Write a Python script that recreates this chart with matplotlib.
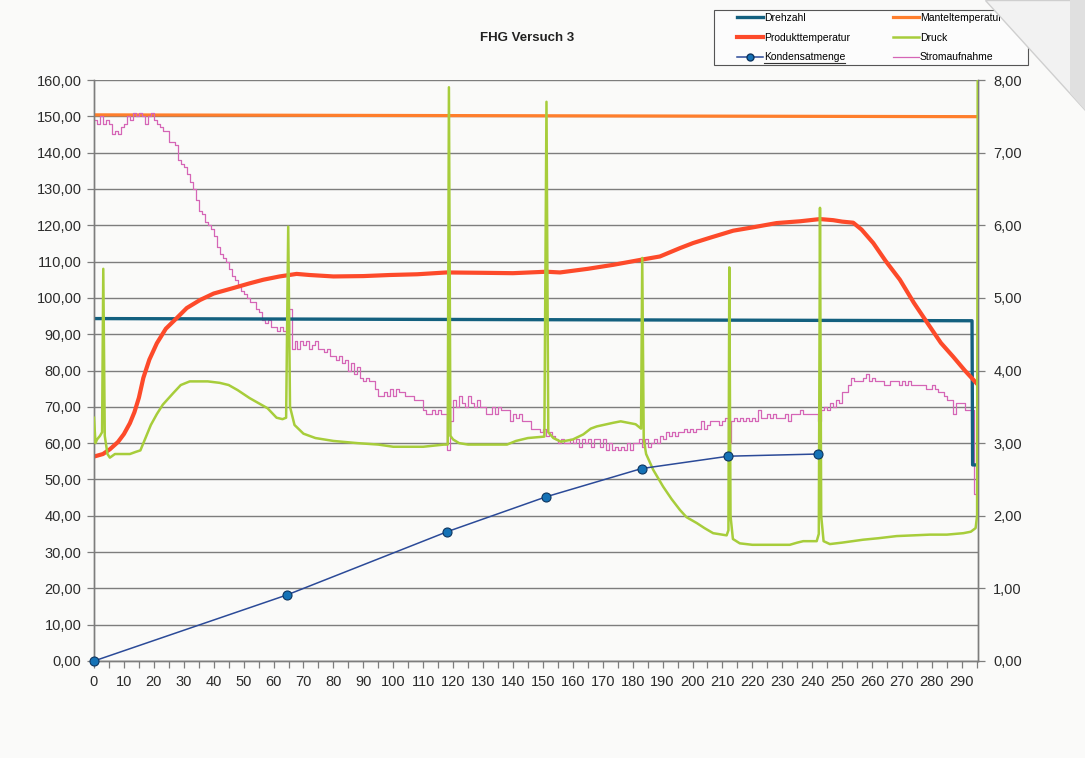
import matplotlib
matplotlib.use("Agg")
import matplotlib.pyplot as plt
from matplotlib.ticker import FuncFormatter, MultipleLocator
from matplotlib.lines import Line2D
from matplotlib.patches import Polygon, Rectangle
import numpy as np

plt.rcParams['font.family'] = ['Liberation Sans', 'DejaVu Sans']

# Drehzahl und Manteltemperatur (linke Achse)
drehzahl_t = [0, 293.4, 293.6, 295.3]
drehzahl = [94.3, 93.7, 54.0, 54.0]

mantel_t = [0, 295.3]
mantel = [150.4, 149.9]

# Produkttemperatur (linke Achse)
produkt_t = [0, 3, 5.3, 8, 10, 12, 13.5, 15, 16.5, 18.5, 21, 24, 27.6, 31, 35.4,
             40, 46.5, 52, 56.6, 62, 67.7, 72, 80, 90, 98.9, 108, 117.8, 130, 140,
             151.2, 155.7, 165, 173.5, 183.5, 189.1, 195.8, 200.2, 206, 213.6, 220,
             228.1, 236, 242.6, 247, 250, 253.7, 256.5, 260.4, 264.5, 269.3, 274,
             279.3, 283, 287.1, 291, 294.9]
produkt = [56.3, 57.0, 58.3, 60.3, 62.5, 65.5, 68.5, 72.5, 78.0, 83.0, 87.5, 91.5,
           94.4, 97.2, 99.4, 101.2, 102.7, 104.0, 105.0, 105.9, 106.6, 106.3, 105.9,
           106.0, 106.3, 106.5, 107.0, 106.9, 106.8, 107.2, 107.0, 108.0, 109.1,
           110.6, 111.4, 113.7, 115.1, 116.6, 118.5, 119.4, 120.6, 121.1, 121.7,
           121.4, 121.0, 120.7, 118.8, 115.1, 110.2, 105.0, 98.6, 92.1, 87.6, 83.8,
           80.0, 76.5]

# Stromaufnahme, ein Wert pro Minute (linke Achse)
strom = [
    149, 148, 150, 148, 149, 148, 145, 146, 145, 147,
    148, 150, 149, 151, 150, 151, 150, 148, 150, 151,
    149, 148, 147, 146, 146, 143, 143, 142, 138, 137,
    136, 134, 132, 130, 127, 124, 123, 121, 120, 119,
    117, 114, 112, 111, 110, 108, 106, 105, 103, 102,
    101, 100, 99, 99, 97, 96, 94, 93, 94, 92,
    92, 91, 92, 91, 91, 97, 86, 88, 86, 88,
    87, 88, 86, 87, 88, 86, 86, 85, 86, 84,
    84, 83, 84, 82, 83, 80, 82, 79, 81, 78,
    77, 78, 77, 77, 75, 73, 73, 74, 73, 75,
    73, 75, 74, 74, 73, 73, 73, 72, 72, 72,
    69, 68, 68, 69, 68, 69, 68, 68, 58, 66,
    72, 70, 73, 71, 70, 73, 71, 70, 72, 70,
    70, 68, 68, 70, 68, 70, 69, 69, 69, 66,
    68, 67, 68, 66, 66, 66, 64, 64, 64, 63,
    64, 62, 63, 62, 61, 60, 61, 60, 60, 61,
    60, 61, 59, 61, 60, 61, 59, 61, 61, 59,
    61, 58, 60, 58, 59, 58, 59, 58, 60, 58,
    60, 60, 61, 59, 61, 59, 60, 61, 60, 62,
    61, 63, 62, 63, 62, 63, 63, 64, 63, 64,
    63, 64, 64, 66, 64, 65, 66, 66, 66, 65,
    66, 67, 60, 66, 67, 66, 67, 66, 67, 66,
    67, 66, 69, 67, 67, 68, 67, 68, 67, 67,
    67, 68, 66, 68, 68, 68, 69, 68, 68, 68,
    68, 68, 66, 69, 70, 69, 71, 70, 72, 71,
    74, 74, 76, 78, 77, 77, 77, 78, 79, 77,
    78, 77, 77, 77, 76, 76, 77, 77, 77, 76,
    77, 76, 77, 76, 76, 76, 76, 76, 75, 75,
    76, 75, 74, 74, 73, 72, 72, 68, 71, 71,
    71, 69, 69, 69, 46, 48,
]
strom_t = np.arange(len(strom))

# Druck (rechte Achse)
druck_t = [0, 0.5, 1, 2, 2.7, 3.1, 3.6, 4.5, 5.3, 7, 10, 12, 14, 15.5, 17, 19, 21,
           23, 26.5, 29, 32, 38, 42, 45, 48, 52, 55, 58, 61, 63, 64.2, 64.9, 65.5,
           67, 70, 74, 80, 88, 95, 100, 110, 117, 118.2, 118.6, 119.1, 120, 122,
           125, 138, 141, 145, 150.5, 151.2, 151.8, 153.5, 156, 160, 163.5, 166,
           168, 173.5, 176, 181, 182.8, 183.2, 183.7, 184.5, 186.9, 190.2, 193,
           195.8, 198, 201.4, 204, 206.9, 211.4, 212, 212.3, 212.7, 213.5, 215.8,
           220, 232.5, 235, 237, 241.5, 242.2, 242.6, 243, 243.8, 245.9, 250, 257,
           262, 268.2, 279.3, 285, 290.5, 293, 294.6, 295.1, 295.3]
druck = [3.35, 3.0, 3.05, 3.1, 3.15, 5.4, 3.1, 2.85, 2.8, 2.85, 2.85, 2.85, 2.88,
         2.9, 3.05, 3.25, 3.4, 3.53, 3.69, 3.8, 3.85, 3.85, 3.83, 3.8, 3.73, 3.62,
         3.55, 3.48, 3.35, 3.33, 3.35, 5.98, 3.5, 3.25, 3.13, 3.07, 3.03, 3.0,
         2.98, 2.95, 2.95, 2.98, 2.98, 7.9, 3.1, 3.05, 3.0, 2.98, 2.98, 3.03,
         3.07, 3.09, 7.7, 3.15, 3.07, 3.02, 3.05, 3.12, 3.2, 3.23, 3.28, 3.3,
         3.26, 3.2, 5.55, 3.05, 2.85, 2.63, 2.4, 2.23, 2.08, 1.98, 1.9, 1.83,
         1.76, 1.73, 1.8, 5.42, 2.0, 1.68, 1.62, 1.6, 1.6, 1.63, 1.65, 1.65,
         1.75, 6.24, 2.0, 1.65, 1.61, 1.63, 1.67, 1.69, 1.72, 1.74, 1.74, 1.76,
         1.78, 1.83, 2.0, 8.0]

# Kondensatmenge (rechte Achse)
kondensat_t = [0, 64.5, 118, 151, 183, 212, 242]
kondensat = [0, 0.91, 1.78, 2.26, 2.65, 2.82, 2.85]

W, H = 1085, 758
fig = plt.figure(figsize=(W / 100, H / 100), dpi=100)
fig.patch.set_facecolor('#fafaf9')

ax = fig.add_axes([94 / W, 1 - 661 / H, (978 - 94) / W, (661 - 80) / H])
ax.set_facecolor('none')
ax2 = ax.twinx()

c_dreh = '#13607f'
c_mantel = '#ff7e2c'
c_produkt = '#fd4a2a'
c_druck = '#a7cd3b'
c_kond = '#2b4a98'
c_strom = '#d565b6'

ax.plot(mantel_t, mantel, color=c_mantel, lw=2.3, zorder=3)
ax.plot(strom_t, strom, color=c_strom, lw=0.9, drawstyle='steps-post', zorder=3)
ax.plot(drehzahl_t, drehzahl, color=c_dreh, lw=2.4, zorder=4)
ax.plot(produkt_t, produkt, color=c_produkt, lw=3.0, zorder=4)

ax2.plot(druck_t, druck, color=c_druck, lw=1.8, zorder=3)
ax2.plot(kondensat_t, kondensat, color=c_kond, lw=1.1, marker='o', ms=6.5,
         mfc='#1572b6', mec='#0d3560', mew=0.8, zorder=4, clip_on=False)

ax.set_xlim(0, 295.4)
ax.set_ylim(0, 160)
ax2.set_ylim(0, 8)

comma = FuncFormatter(lambda v, p: ('%.2f' % v).replace('.', ','))
ax.yaxis.set_major_locator(MultipleLocator(10))
ax.yaxis.set_major_formatter(comma)
ax2.yaxis.set_major_locator(MultipleLocator(1))
ax2.yaxis.set_major_formatter(comma)
ax.xaxis.set_major_locator(MultipleLocator(10))
ax.xaxis.set_minor_locator(MultipleLocator(5))
ax.xaxis.set_major_formatter(FuncFormatter(lambda v, p: '%d' % v))

ax.grid(axis='y', color='#7d7d7d', lw=1.0)
ax.set_axisbelow(True)

for a in (ax, ax2):
    a.tick_params(which='both', direction='out', length=5, width=0.9,
                  color='#7d7d7d', labelsize=10.5, labelcolor='#2b2b2b')
    a.spines['top'].set_visible(False)
    for s in ('left', 'right', 'bottom'):
        a.spines[s].set_color('#7d7d7d')
        a.spines[s].set_linewidth(1.0)
ax.tick_params(axis='x', pad=5)
ax.tick_params(axis='y', pad=4)
ax2.tick_params(axis='y', pad=6)

fig.text(0.486, 0.950, 'FHG Versuch 3', ha='center', va='center',
         fontsize=9.5, weight='bold', color='#222222')

# Legende mit eigenem Rahmen
fig.add_artist(Rectangle((714 / W, 1 - 65 / H), (1028 - 714) / W, 55 / H,
                         transform=fig.transFigure, facecolor='#fcfcfc',
                         edgecolor='#555555', lw=0.8, zorder=5))
handles = [
    Line2D([], [], color=c_dreh, lw=2.4),
    Line2D([], [], color=c_produkt, lw=3.0),
    Line2D([], [], color=c_kond, lw=1.1, marker='o', ms=5, mfc='#1572b6', mec='#0d3560'),
    Line2D([], [], color=c_mantel, lw=2.3),
    Line2D([], [], color=c_druck, lw=1.8),
    Line2D([], [], color=c_strom, lw=0.9),
]
labels = ['Drehzahl', 'Produkttemperatur', 'Kondensatmenge',
          'Manteltemperatur', 'Druck', 'Stromaufnahme']
leg = fig.legend(handles, labels, ncol=2, loc='upper left',
                 bbox_to_anchor=(737 / W, 1 - 13 / H), borderaxespad=0,
                 fontsize=7.5, frameon=False, handlelength=2.5, handletextpad=0.1,
                 columnspacing=4.1, labelspacing=0.93, borderpad=0)
leg.set_zorder(6)

# Unterstreichung unter "Kondensatmenge"
fig.canvas.draw()
bb = leg.get_texts()[2].get_window_extent().transformed(fig.transFigure.inverted())
fig.add_artist(Line2D([bb.x0, bb.x1], [bb.y0 - 1 / H, bb.y0 - 1 / H],
                      transform=fig.transFigure, color='#333333', lw=0.8, zorder=7))

# umgeknickte Blattecke oben rechts
fig.add_artist(Polygon([(985 / W, 1.0), (1.0, 1.0), (1.0, 1 - 110 / H)],
                       closed=True, transform=fig.transFigure,
                       facecolor='#f2f2f2', edgecolor='#cfcfcf', lw=1.0, zorder=10))
fig.add_artist(Polygon([(1070 / W, 1.0), (1.0, 1.0), (1.0, 1 - 110 / H), (1070 / W, 1 - 93 / H)],
                       closed=True, transform=fig.transFigure,
                       facecolor='#e0e0e0', edgecolor='none', zorder=11))

fig.savefig('out.png', dpi=100, facecolor=fig.get_facecolor())
